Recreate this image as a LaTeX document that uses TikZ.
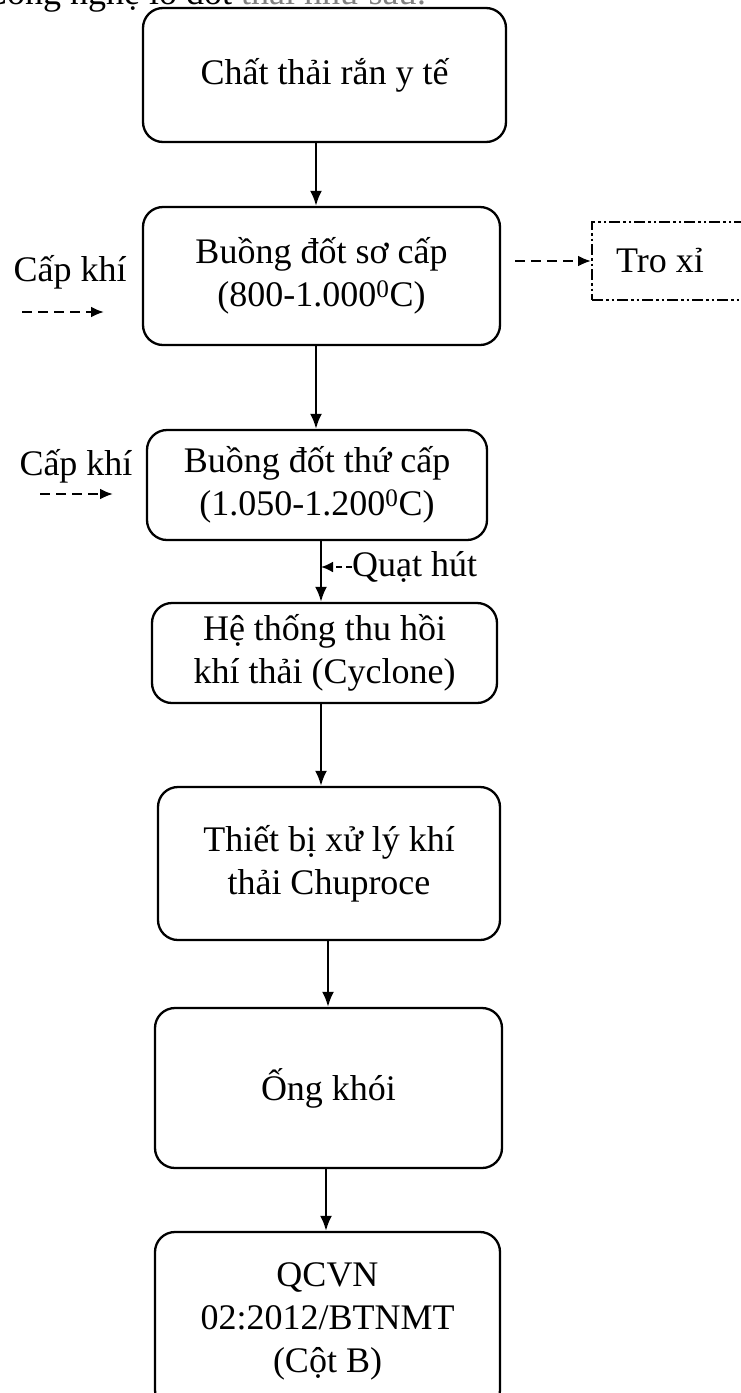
\documentclass[tikz,border=0pt]{standalone}
\usepackage{fontspec}
\setmainfont{Liberation Serif}
\usetikzlibrary{arrows.meta}
\begin{document}
\begin{tikzpicture}[x=1pt,y=-1pt,
  box/.style={draw,line width=2.3pt,rounded corners=20pt,align=center,
    font=\fontsize{36}{43}\selectfont,inner sep=0pt},
  lbl/.style={font=\fontsize{36}{43}\selectfont,inner sep=0pt},
  arr/.style={line width=2.3pt,-{Latex[length=15pt,width=12pt]}},
  darr/.style={line width=2.3pt,dash pattern=on 10pt off 6pt,-{Latex[length=13pt,width=11pt]}},
  sdarr/.style={line width=2.3pt,dash pattern=on 6pt off 4pt,-{Latex[length=12pt,width=11pt]}},
  dotbox/.style={draw,line width=2pt,dash pattern=on 11pt off 3pt on 2.5pt off 3pt on 2.5pt off 3pt,
    font=\fontsize{36}{43}\selectfont,inner sep=0pt}]
\useasboundingbox (0,0) rectangle (740,1393);
\fill[white] (0,0) rectangle (740,1393);
% cut-off heading at the top
\node[lbl,anchor=base west] (head) at (-17,4) {Công nghệ lò đốt \textcolor{gray}{thải như sau:}};
% boxes
\node[box,minimum width=363pt,minimum height=134pt] (b1) at (324.5,75) {Chất thải rắn y tế};
\node[box,minimum width=357pt,minimum height=138pt] (b2) at (321.5,276) {Buồng đốt sơ cấp\\(800-1.000\textsuperscript{0}C)};
\node[dotbox,minimum width=150pt,minimum height=78pt] (tro) at (667,261) {Tro xỉ\hspace*{14pt}};
\node[box,minimum width=340pt,minimum height=110pt] (b3) at (317,485) {Buồng đốt thứ cấp\\(1.050-1.200\textsuperscript{0}C)};
\node[box,minimum width=345pt,minimum height=100pt] (b4) at (324.5,653) {Hệ thống thu hồi\\khí thải (Cyclone)};
\node[box,minimum width=342pt,minimum height=153pt] (b5) at (329,863.5) {Thiết bị xử lý khí\\thải Chuproce};
\node[box,minimum width=347pt,minimum height=160pt] (b6) at (328.5,1088) {Ống khói};
\node[box,minimum width=345pt,minimum height=178pt] (b7) at (327.5,1321) {QCVN\\02:2012/BTNMT\\(Cột B)};
% side labels
\node[lbl] (ck1) at (70,272) {Cấp khí};
\coordinate (ck1s) at (22,312);
\coordinate (ck1e) at (104,312);
\node[lbl] (ck2) at (76,466) {Cấp khí};
\coordinate (ck2s) at (40,494);
\coordinate (ck2e) at (113,494);
\node[lbl,anchor=west] (qh) at (352,567) {Quạt hút};
\coordinate (qj) at (321,567);
% connectors
\draw[arr] (b1.south -| 316,0) -- (b2.north -| 316,0);
\draw[arr] (b2.south -| 316,0) -- (b3.north -| 316,0);
\draw[arr] (b3.south -| 321,0) -- (b4.north -| 321,0);
\draw[arr] (b4.south -| 321,0) -- (b5.north -| 321,0);
\draw[arr] (b5.south -| 328,0) -- (b6.north -| 328,0);
\draw[arr] (b6.south -| 326,0) -- (b7.north -| 326,0);
\draw[darr,shorten <=14pt] (b2.east |- tro.west) -- (tro.west);
\draw[darr] (ck1s) -- (ck1e);
\draw[darr] (ck2s) -- (ck2e);
\draw[sdarr] (qh.west) -- (qj);
\end{tikzpicture}
\end{document}
